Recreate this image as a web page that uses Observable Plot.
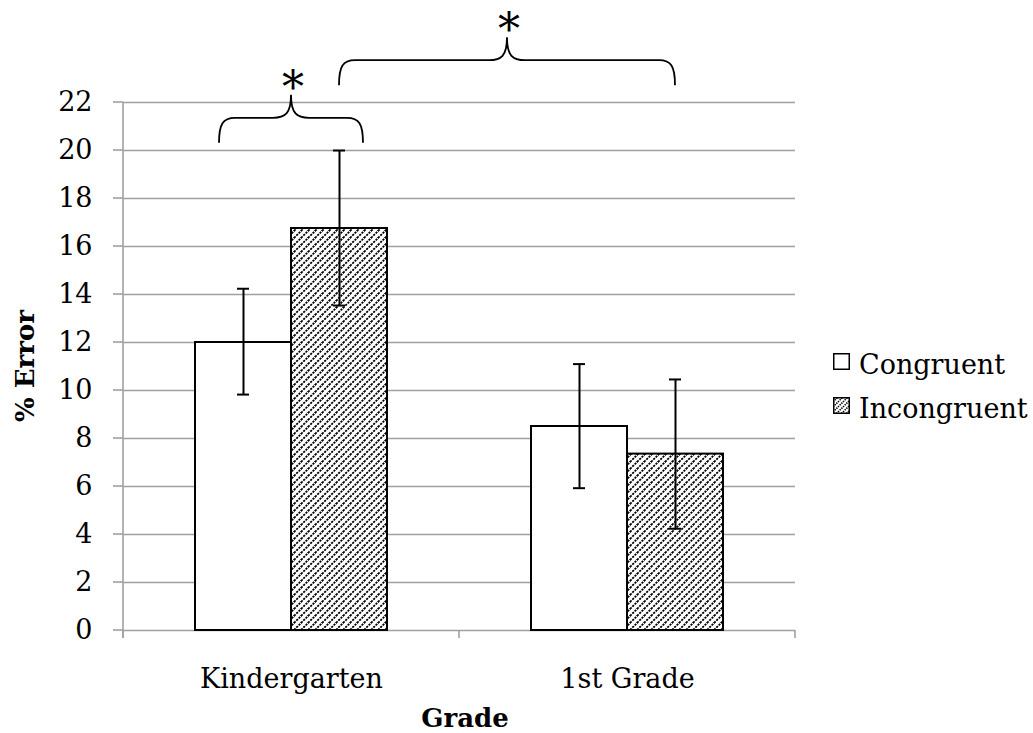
<!DOCTYPE html>
<html><head><meta charset="utf-8">
<script src="https://cdn.jsdelivr.net/npm/d3@7"></script>
<script src="https://cdn.jsdelivr.net/npm/@observablehq/plot@0.6"></script>
<style>
body{margin:0;background:#fff;}
#wrap{position:relative;width:1033px;height:733px;font-family:"DejaVu Serif",serif;}
.legend{position:absolute;left:833px;top:343px;font-size:27px;line-height:44px;color:#000;}
.legend .row{display:flex;align-items:center;white-space:nowrap;}
.legend .row svg{margin-right:9px;position:relative;top:-4px;}
</style></head><body><div id="wrap"></div>
<script>
// ---- data ----
const grades = ["Kindergarten", "1st Grade"];
const conditions = ["Congruent", "Incongruent"];
const meanError = [[12.0, 16.75], [8.5, 7.35]];
const errLow = [[9.83, 13.54], [5.93, 4.24]];
const errHigh = [[14.24, 20.0], [11.1, 10.46]];
const yTicks = [0, 2, 4, 6, 8, 10, 12, 14, 16, 18, 20, 22];
const xTitle = "Grade";
const yTitle = "% Error";
// significance braces: [grade, condition, fraction across bar] start & end, base value, label
const braceStart = [["Kindergarten", "Congruent", 0.25], ["Kindergarten", "Incongruent", 0.5]];
const braceEnd = [["Kindergarten", "Incongruent", 0.75], ["1st Grade", "Incongruent", 0.5]];
const braceBase = [20.3, 22.7];
const braceLabel = ["*", "*"];

const rows = [];
grades.forEach((g, i) => conditions.forEach((c, j) => rows.push({
  grade: g, condition: c, value: meanError[i][j], lo: errLow[i][j], hi: errHigh[i][j]
})));

const GRID = "#a0a0a0";

const chart = Plot.plot({
  width: 1033,
  height: 733,
  marginLeft: 123,
  marginRight: 238,
  marginTop: 102,
  marginBottom: 103,
  style: {fontFamily: "DejaVu Serif, serif", fontSize: "27px", color: "#000", background: "#fff", overflow: "visible"},
  facet: {data: rows, x: "grade"},
  fx: {domain: grades, padding: 0, axis: "bottom", tickSize: 0, tickPadding: 38, label: null},
  x: {domain: conditions, paddingInner: 0, paddingOuter: 0.75, axis: null},
  y: {domain: [0, 22], ticks: yTicks, tickFormat: d => String(d), tickSize: 0, tickPadding: 31, label: null},
  marks: [
    Plot.ruleY(yTicks, {stroke: GRID, strokeWidth: 1.6}),
    Plot.barY(rows, {filter: d => d.condition === "Congruent", x: "condition", y: "value", fill: "white", stroke: "black", strokeWidth: 2}),
    Plot.barY(rows, {filter: d => d.condition === "Incongruent", x: "condition", y: "value", fill: "url(#hatch)", stroke: "black", strokeWidth: 2}),
    Plot.ruleX(rows, {x: "condition", y1: "lo", y2: "hi", stroke: "black", strokeWidth: 2}),
    Plot.tickY(rows, {x: "condition", y: "lo", stroke: "black", strokeWidth: 2, insetLeft: 42, insetRight: 42}),
    Plot.tickY(rows, {x: "condition", y: "hi", stroke: "black", strokeWidth: 2, insetLeft: 42, insetRight: 42})
  ]
});

document.getElementById("wrap").appendChild(chart);
const svg = d3.select(chart);

// hatch pattern
const defs = svg.insert("defs", ":first-child");
const P = 7;
const pat = defs.append("pattern").attr("id", "hatch").attr("patternUnits", "userSpaceOnUse")
  .attr("width", P).attr("height", P);
pat.append("rect").attr("width", P).attr("height", P).attr("fill", "white");
[[0, P, P, 0], [-1, 1, 1, -1], [P - 1, P + 1, P + 1, P - 1]].forEach(([a, b, c, d]) =>
  pat.append("line").attr("x1", a).attr("y1", b).attr("x2", c).attr("y2", d)
    .attr("stroke", "black").attr("stroke-width", 1.8).attr("stroke-dasharray", "2.2 1.1"));

// scales
function mk(name) {
  const s = chart.scale(name);
  if (s.apply) return s;
  let f;
  if (s.type === "band") f = d3.scaleBand(s.domain, s.range).paddingInner(s.paddingInner ?? s.padding ?? 0).paddingOuter(s.paddingOuter ?? s.padding ?? 0).align(s.align ?? 0.5);
  else f = d3.scaleLinear(s.domain, s.range);
  s.apply = f; s.bandwidth = s.bandwidth ?? (f.bandwidth ? f.bandwidth() : 0);
  return s;
}
const Y = mk("y"), FX = mk("fx"), X = mk("x");
const xBW = X.bandwidth;
const xShift = Math.min(...X.range) > 1 ? FX.range[0] : 0;  // inner x range may include the left margin
const px = (g, c, t) => FX.apply(g) + X.apply(c) - xShift + xBW * t;
const left = FX.range[0], right = FX.range[1];
const y0 = Y.apply(0), yTop = Y.apply(22);

const deco = svg.append("g").attr("fill", "none").attr("stroke", GRID).attr("stroke-width", 1.6);
deco.append("line").attr("x1", left).attr("x2", left).attr("y1", yTop).attr("y2", y0 + 8);
yTicks.forEach(t => deco.append("line").attr("x1", left - 10).attr("x2", left).attr("y1", Y.apply(t)).attr("y2", Y.apply(t)));
grades.forEach(g => { const xx = FX.apply(g); deco.append("line").attr("x1", xx).attr("x2", xx).attr("y1", y0).attr("y2", y0 + 8); });
deco.append("line").attr("x1", right).attr("x2", right).attr("y1", y0).attr("y2", y0 + 8);

// axis titles
svg.append("text").text(xTitle).attr("x", (left + right) / 2 + 6).attr("y", 727)
  .attr("text-anchor", "middle").attr("font-weight", "bold").attr("font-size", 26).attr("fill", "black");
svg.append("text").text(yTitle).attr("transform", `translate(34,${(y0 + yTop) / 2}) rotate(-90)`)
  .attr("text-anchor", "middle").attr("font-weight", "bold").attr("font-size", 26).attr("fill", "black");

// braces
const bg = svg.append("g").attr("fill", "none").attr("stroke", "black").attr("stroke-width", 1.8);
braceBase.forEach((b, i) => {
  const x1 = px(...braceStart[i]), x2 = px(...braceEnd[i]);
  const xm = (x1 + x2) / 2;
  const yb = Y.apply(b), yh = yb - 25, yp = yb - 48;
  const r = 16, rc = 18;
  const d = `M${x1},${yb} C${x1},${yh + 6} ${x1 + 4},${yh} ${x1 + r},${yh} L${xm - rc},${yh} C${xm - 6},${yh} ${xm},${yh - 4} ${xm},${yp}` +
    ` C${xm},${yh - 4} ${xm + 6},${yh} ${xm + rc},${yh} L${x2 - r},${yh} C${x2 - 4},${yh} ${x2},${yh + 6} ${x2},${yb}`;
  bg.append("path").attr("d", d);
  svg.append("text").text(braceLabel[i]).attr("x", xm + 2).attr("y", yp + 8)
    .attr("text-anchor", "middle").attr("font-size", 44).attr("fill", "black");
});

// legend
const lg = d3.select("#wrap").append("div").attr("class", "legend");
conditions.forEach((c, i) => {
  const row = lg.append("div").attr("class", "row");
  const s = row.append("svg").attr("width", 17).attr("height", 17);
  if (i === 1) {
    const p = s.append("defs").append("pattern").attr("id", "hatchL").attr("patternUnits", "userSpaceOnUse").attr("width", 5).attr("height", 5);
    p.append("rect").attr("width", 5).attr("height", 5).attr("fill", "white");
    p.append("path").attr("d", "M0,5L5,0M-1,1L1,-1M4,6L6,4").attr("stroke", "black").attr("stroke-width", 1.5).attr("stroke-dasharray", "1.4 1");
  }
  s.append("rect").attr("x", 0.75).attr("y", 0.75).attr("width", 15.5).attr("height", 15.5)
    .attr("fill", i === 0 ? "white" : "url(#hatchL)").attr("stroke", "black").attr("stroke-width", 1.5);
  row.append("span").text(c);
});
</script>
</body></html>
